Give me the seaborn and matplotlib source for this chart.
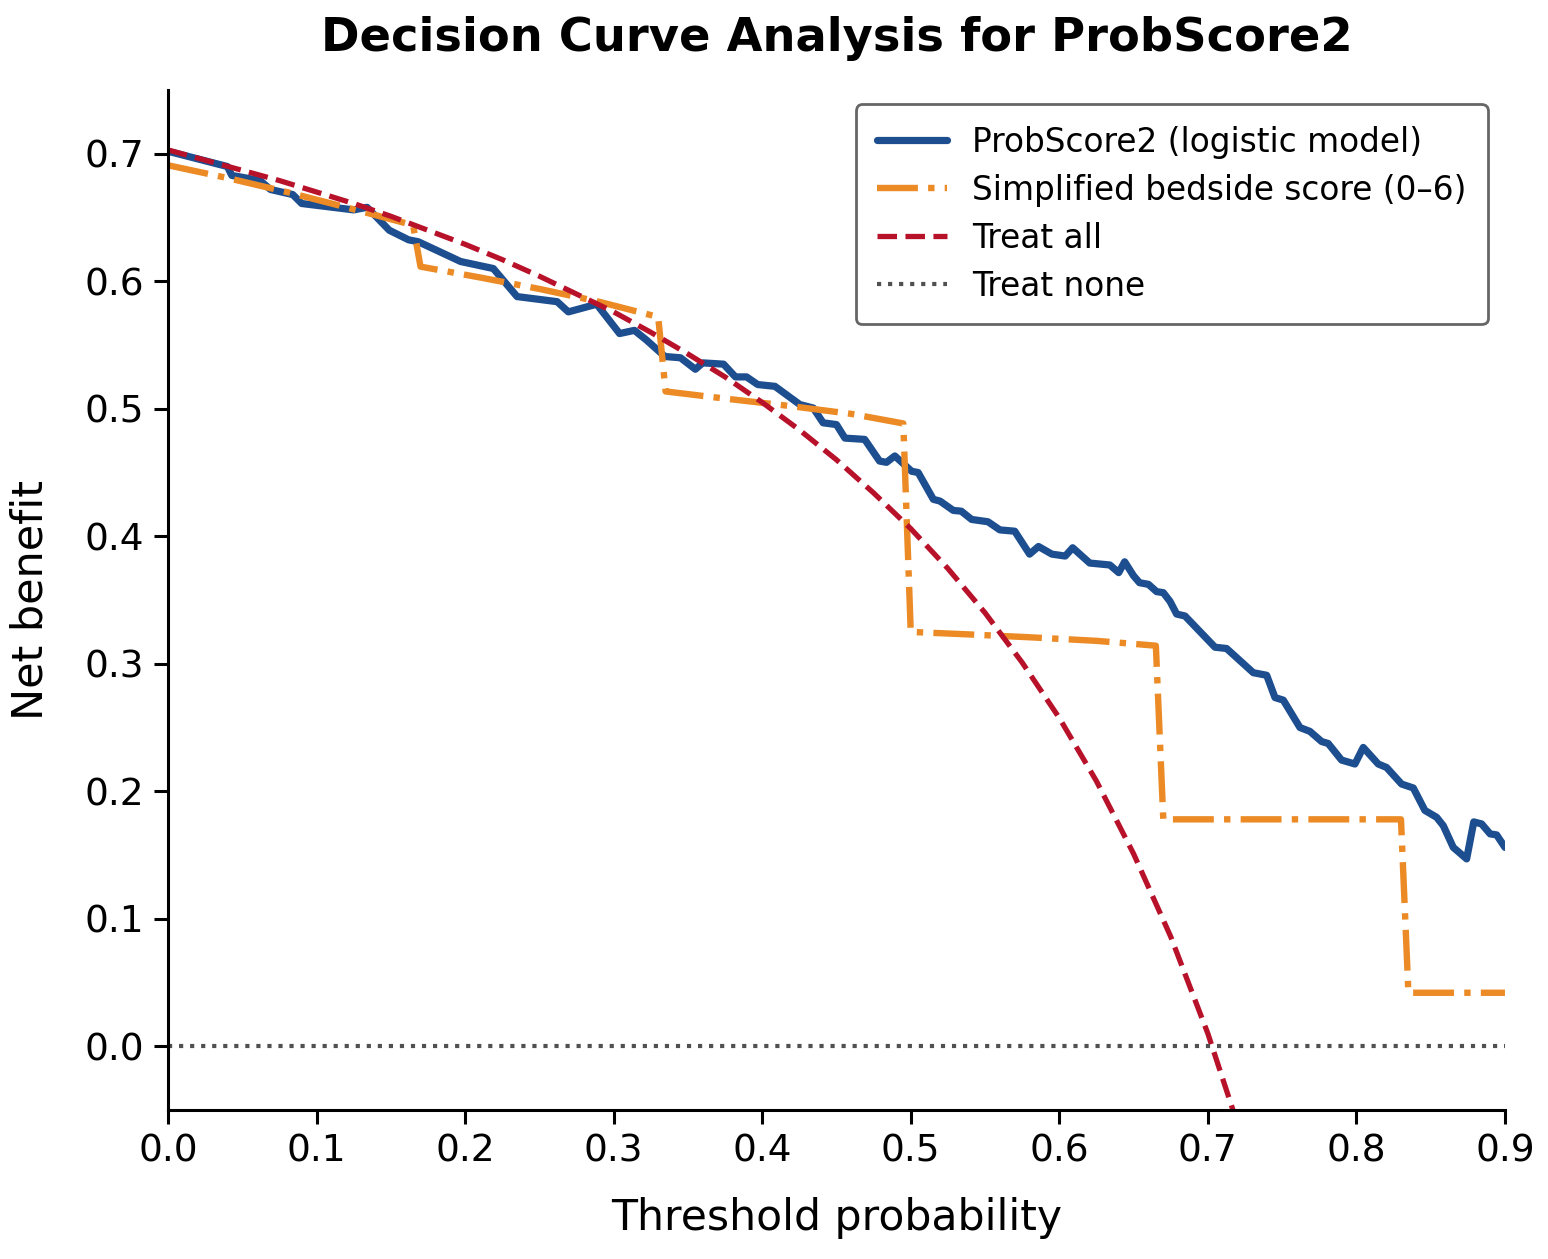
import numpy as np
import pandas as pd
import matplotlib
matplotlib.use("Agg")
import matplotlib.pyplot as plt
import seaborn as sns

# ---- data ----
model_t = [0.000, 0.040, 0.043, 0.062, 0.069, 0.084, 0.090, 0.125, 0.134, 0.149,
           0.162, 0.1685, 0.197, 0.219, 0.235, 0.262, 0.2695, 0.2886, 0.304, 0.314,
           0.322, 0.3345, 0.345, 0.355, 0.360, 0.374, 0.382, 0.3895, 0.397, 0.4086,
           0.4254, 0.4344, 0.441, 0.450, 0.4557, 0.469, 0.479, 0.4837, 0.4893, 0.5006,
           0.505, 0.5152, 0.5197, 0.5286, 0.534, 0.541, 0.552, 0.560, 0.570, 0.580,
           0.586, 0.595, 0.604, 0.609, 0.6205, 0.634, 0.640, 0.644, 0.650, 0.654,
           0.660, 0.6655, 0.670, 0.6745, 0.679, 0.6846, 0.7048, 0.7126, 0.7306, 0.7396,
           0.7452, 0.7508, 0.762, 0.7687, 0.7766, 0.781, 0.790, 0.799, 0.8046, 0.8147,
           0.8203, 0.8304, 0.8383, 0.8461, 0.854, 0.8585, 0.8652, 0.8742, 0.879, 0.8843,
           0.890, 0.8944, 0.900]
model_nb = [0.702, 0.690, 0.683, 0.679, 0.672, 0.668, 0.661, 0.656, 0.658, 0.640,
            0.6325, 0.631, 0.6155, 0.610, 0.588, 0.584, 0.576, 0.582, 0.559, 0.5615,
            0.554, 0.541, 0.540, 0.531, 0.536, 0.535, 0.525, 0.525, 0.519, 0.5176,
            0.5033, 0.5006, 0.489, 0.4876, 0.477, 0.476, 0.459, 0.458, 0.463, 0.451,
            0.450, 0.429, 0.4276, 0.4203, 0.4197, 0.4132, 0.4114, 0.405, 0.404, 0.386,
            0.392, 0.386, 0.3845, 0.391, 0.379, 0.3775, 0.3715, 0.380, 0.369, 0.3636,
            0.3623, 0.3566, 0.3558, 0.349, 0.339, 0.3375, 0.313, 0.312, 0.293, 0.291,
            0.2735, 0.2715, 0.250, 0.247, 0.239, 0.2375, 0.2245, 0.2214, 0.2344, 0.2214,
            0.2187, 0.2057, 0.2026, 0.185, 0.1796, 0.173, 0.156, 0.147, 0.176, 0.1744,
            0.1666, 0.1658, 0.156]

score_t = [0.000, 0.040, 0.080, 0.120, 0.165, 0.170, 0.210, 0.250, 0.290, 0.330,
           0.335, 0.375, 0.420, 0.460, 0.495, 0.500, 0.540, 0.580, 0.625, 0.665,
           0.670, 0.750, 0.830, 0.835, 0.900]
score_nb = [0.691, 0.681, 0.670, 0.658, 0.644, 0.6115, 0.603, 0.594, 0.584, 0.572,
            0.5136, 0.508, 0.502, 0.496, 0.4885, 0.325, 0.323, 0.3208, 0.318, 0.3142,
            0.178, 0.178, 0.178, 0.042, 0.042]

all_t = [0.000, 0.025, 0.050, 0.075, 0.100, 0.125, 0.150, 0.175, 0.200, 0.225,
         0.250, 0.275, 0.300, 0.325, 0.350, 0.375, 0.400, 0.425, 0.450, 0.475,
         0.500, 0.525, 0.550, 0.575, 0.600, 0.625, 0.650, 0.675, 0.700, 0.720]
all_nb = [0.703, 0.695, 0.687, 0.679, 0.670, 0.661, 0.651, 0.640, 0.629, 0.617,
          0.604, 0.590, 0.576, 0.560, 0.543, 0.525, 0.505, 0.4835, 0.460, 0.434,
          0.406, 0.3747, 0.340, 0.301, 0.2575, 0.208, 0.151, 0.086, 0.010, -0.061]

none_t = [0.0, 0.9]
none_nb = [0.0, 0.0]

labels = ["ProbScore2 (logistic model)", "Simplified bedside score (0\u20136)",
          "Treat all", "Treat none"]
x_ticks = [0.0, 0.1, 0.2, 0.3, 0.4, 0.5, 0.6, 0.7, 0.8, 0.9]
y_ticks = [0.0, 0.1, 0.2, 0.3, 0.4, 0.5, 0.6, 0.7]

# ---- plotting ----
sns.set_theme(style="ticks")
plt.rcParams["font.family"] = ["DejaVu Sans"]

fig = plt.figure(figsize=(7.74, 6.295), dpi=200)
ax = fig.add_axes([0.1085, 0.1183, 0.8637, 0.8102])

df_model = pd.DataFrame({"t": model_t, "nb": model_nb})
df_score = pd.DataFrame({"t": score_t, "nb": score_nb})
df_all = pd.DataFrame({"t": all_t, "nb": all_nb})
df_none = pd.DataFrame({"t": none_t, "nb": none_nb})

sns.lineplot(data=df_model, x="t", y="nb", ax=ax, color="#1d4e8f", lw=2.6,
             estimator=None, label=labels[0])
sns.lineplot(data=df_score, x="t", y="nb", ax=ax, color="#ec8a25", lw=2.3,
             estimator=None, label=labels[1], linestyle="-.")
sns.lineplot(data=df_all, x="t", y="nb", ax=ax, color="#b8122b", lw=1.9,
             estimator=None, label=labels[2], linestyle="--")
sns.lineplot(data=df_none, x="t", y="nb", ax=ax, color="#505050", lw=1.5,
             estimator=None, label=labels[3], linestyle=":")

ax.set_xlim(0.0, 0.9)
ax.set_ylim(-0.05, 0.75)
ax.set_xticks(x_ticks)
ax.set_yticks(y_ticks)
ax.set_xticklabels([f"{v:.1f}" for v in x_ticks])
ax.set_yticklabels([f"{v:.1f}" for v in y_ticks])
ax.tick_params(axis="both", labelsize=13.5, width=1.1, length=5, color="black",
               labelcolor="black")
for s in ["left", "bottom"]:
    ax.spines[s].set_linewidth(1.1)
    ax.spines[s].set_color("black")
sns.despine(ax=ax)

ax.set_xlabel("Threshold probability", fontsize=15.3, labelpad=10, color="black")
ax.set_ylabel("Net benefit", fontsize=15.5, labelpad=12, color="black")
ax.set_title("Decision Curve Analysis for ProbScore2", fontsize=16.7,
             fontweight="bold", pad=14, color="black")

leg = ax.legend(loc="upper right", fontsize=11.8, frameon=True, fancybox=True,
                edgecolor="#666666", framealpha=1.0, borderpad=0.65,
                labelspacing=0.46, handlelength=2.13, handletextpad=0.76,
                borderaxespad=0.0, bbox_to_anchor=(0.987, 0.986))
leg.get_frame().set_linewidth(1.0)
for txt in leg.get_texts():
    txt.set_color("black")

fig.savefig("out.png", dpi=200)
